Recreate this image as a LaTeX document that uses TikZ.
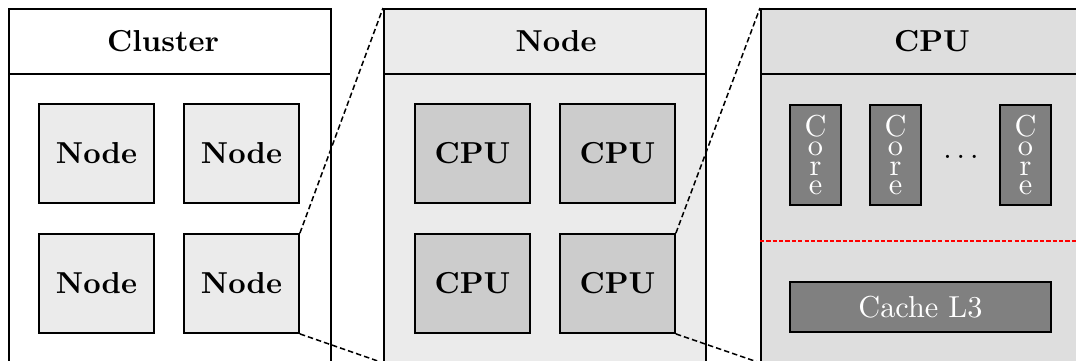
\documentclass[tikz,border=0pt]{standalone}
\usetikzlibrary{positioning}

\newcommand{\unitpx}{0.33pt}
\definecolor{nodegray}{gray}{0.92}
\definecolor{cpupanelgray}{gray}{0.87}
\definecolor{cpugray}{gray}{0.80}
\definecolor{coregray}{gray}{0.50}

\tikzset{
    panel/.style={draw, semithick, anchor=north west,
        minimum width=322*\unitpx, minimum height=353*\unitpx},
    panelhead/.style={draw, semithick, anchor=north west,
        minimum width=322*\unitpx, minimum height=65*\unitpx},
    headlabel/.style={font=\bfseries},
    unitbox/.style={draw, semithick, font=\bfseries,
        minimum width=115*\unitpx, minimum height=99*\unitpx},
    corebox/.style={draw, semithick, fill=coregray, text=white,
        minimum width=51*\unitpx, minimum height=100*\unitpx,
        inner sep=0pt, align=center,
        font={\fontsize{10}{6.4}\selectfont}},
    zoomline/.style={line width=0.5pt, dash pattern=on 1.8pt off 1pt},
}

\begin{document}
\begin{tikzpicture}[x=\unitpx, y=-\unitpx]
    \clip (0,0) rectangle (1076,360);

    % the three panels
    \node[panel, fill=white] (clusterbox) at (8,8) {};
    \node[panelhead, fill=white] (clusterhead) at (8,8) {};
    \node[headlabel] (clusterlabel) at (163,41) {Cluster};
    \node[panel, fill=nodegray] (nodebox) at (383,8) {};
    \node[panelhead, fill=nodegray] (nodehead) at (383,8) {};
    \node[headlabel] (nodelabel) at (556,41) {Node};
    \node[panel, fill=cpupanelgray] (cpubox) at (760,8) {};
    \node[panelhead, fill=cpupanelgray] (cpuhead) at (760,8) {};
    \node[headlabel] (cpulabel) at (932,41) {CPU};

    % nodes of the cluster, cpus of a node
    \foreach \i in {0,1}
    \foreach \j in {0,1} {
        \node[unitbox, fill=nodegray]
            (n\i\j) at (96.5+145*\i, 153.5+130*\j) {Node};
        \node[unitbox, fill=cpugray]
            (c\i\j) at (472.5+145*\i, 153.5+130*\j) {CPU};
    }

    % inside a cpu
    \foreach \k/\x in {1/815.5, 2/895.5, 3/1025.5} {
        \node[corebox] (core\k) at (\x,155) {C\\o\\r\\e};
    }
    \node[inner sep=0pt] (coredots) at (961,157) {$\dots$};
    \draw[red, semithick, dash pattern=on 1.4pt off 0.7pt]
        (cpubox.west |- 0,241) -- (cpubox.east |- 0,241);
    \node[draw, semithick, fill=coregray, text=white,
        minimum width=261*\unitpx, minimum height=50*\unitpx]
        (cache) at (920.5,307) {Cache L3};

    % zoom lines
    \foreach \a/\b in {n11/nodebox, c11/cpubox} {
        \draw[zoomline] (\a.north east) -- (\b.north west);
        \draw[zoomline] (\a.south east) -- (\b.south west);
    }
\end{tikzpicture}
\end{document}
